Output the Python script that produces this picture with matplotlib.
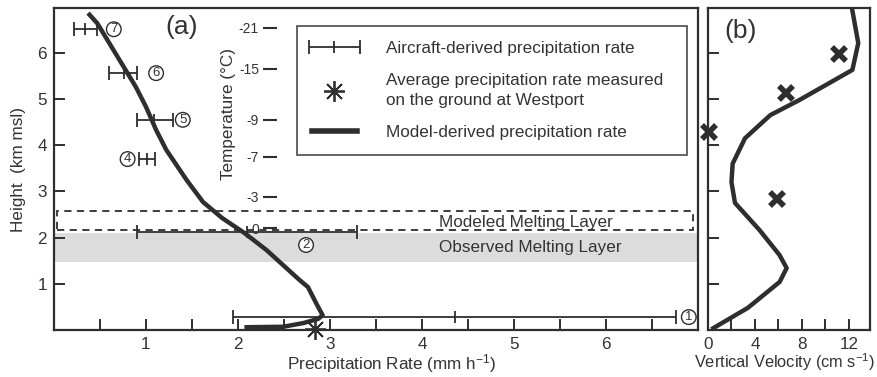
import matplotlib
matplotlib.use("Agg")
import matplotlib.pyplot as plt
from matplotlib.lines import Line2D
from matplotlib.patches import Rectangle
from matplotlib.legend_handler import HandlerErrorbar

plt.rcParams['font.family'] = ['Liberation Sans', 'DejaVu Sans']
plt.rcParams['mathtext.fontset'] = 'custom'
plt.rcParams['mathtext.rm'] = 'Liberation Sans'
plt.rcParams['mathtext.it'] = 'Liberation Sans'

# ---------------- data ----------------
# model-derived precipitation profile (panel a)
model_rate = [0.37, 0.47, 0.89, 1.0, 1.11, 1.22, 1.44, 1.62, 1.83, 2.07, 2.31, 2.67,
              2.76, 2.86, 2.92, 2.87, 2.71, 2.49, 2.07]
model_height = [6.86, 6.64, 5.26, 4.83, 4.33, 3.9, 3.25, 2.77, 2.42, 2.1, 1.73, 1.08,
                0.93, 0.54, 0.32, 0.24, 0.15, 0.07, 0.06]

# aircraft-derived precipitation (horizontal ranges)
air_labels = ["1", "2", "4", "5", "6", "7"]
air_height = [0.28, 2.12, 3.70, 4.55, 5.56, 6.51]
air_mid = [4.36, 2.10, 1.01, 1.09, 0.76, 0.34]
air_low = [1.95, 0.90, 0.92, 0.90, 0.60, 0.22]
air_high = [6.76, 3.29, 1.10, 1.29, 0.90, 0.47]
air_label_x = [6.90, 2.74, 0.80, 1.40, 1.11, 0.65]
air_label_y = [0.28, 1.84, 3.70, 4.55, 5.56, 6.51]

# ground measurement
ground_rate = [2.84]
ground_height = [0.03]

# melting layers (km)
observed_ml = [1.47, 2.10]
modeled_ml = [2.16, 2.58]

# temperature scale
temp_labels = ["-21", "-15", "-9", "-7", "-3", "0"]
temp_heights = [6.54, 5.65, 4.55, 3.75, 2.88, 2.20]

# panel b: vertical velocity
vv_model = [12.26, 12.8, 12.3, 7.8, 5.3, 3.15, 2.1, 2.0, 2.3, 4.4, 6.1, 6.7, 6.1, 3.4, 0.45]
vv_height = [6.97, 6.21, 5.63, 4.98, 4.65, 4.15, 3.6, 3.2, 2.75, 2.16, 1.62, 1.34, 1.04, 0.48, 0.04]
vv_obs = [11.2, 6.65, 0.1, 5.9]
vv_obs_height = [5.97, 5.13, 4.28, 2.84]

# ticks
a_xticks = [0.5, 1, 1.5, 2, 2.5, 3, 3.5, 4, 4.5, 5, 5.5, 6, 6.5]
a_xlabels = ["", "1", "", "2", "", "3", "", "4", "", "5", "", "6", ""]
yticks = [1, 2, 3, 4, 5, 6]
b_xticks = [0, 2, 4, 6, 8, 10, 12]
b_xlabels = ["0", "", "4", "", "8", "", "12"]

# ---------------- style ----------------
DARK = "#2e2e2e"
TXT = "#333333"
FS = 12.3

fig = plt.figure(figsize=(8.77, 3.77), dpi=100)
W, H = 877, 377
ax = fig.add_axes([54 / W, (H - 330) / H, 644 / W, 322 / H])
bx = fig.add_axes([708 / W, (H - 330) / H, 162 / W, 322 / H])

for a in (ax, bx):
    for s in a.spines.values():
        s.set_color(DARK)
        s.set_linewidth(1.6)
    a.tick_params(direction='in', length=8, width=1.4, color=DARK,
                  labelcolor=TXT, labelsize=FS, pad=5)

# ---------------- panel a ----------------
ax.set_xlim(0, 7.0)
ax.set_ylim(0, 6.97)

ax.axhspan(observed_ml[0], observed_ml[1], color="#dcdcdc", lw=0, zorder=0)
ax.add_patch(Rectangle((0.03, modeled_ml[0]), 6.92, modeled_ml[1] - modeled_ml[0],
                       fill=False, ls=(0, (4, 3)), lw=1.3, ec=DARK, zorder=1))
ax.text(5.13, 2.33, "Modeled Melting Layer", ha='center', va='center',
        fontsize=FS, color=TXT)
ax.text(5.18, 1.79, "Observed Melting Layer", ha='center', va='center',
        fontsize=FS, color=TXT)

# aircraft error bars
xerr = [[m - lo for m, lo in zip(air_mid, air_low)],
        [hi - m for m, hi in zip(air_mid, air_high)]]
eb = ax.errorbar(air_mid, air_height, xerr=xerr, fmt='|', color=DARK, ms=8, mew=1.3,
                 elinewidth=1.3, capsize=5, capthick=1.3, zorder=3)
for lab, lx, ly in zip(air_labels, air_label_x, air_label_y):
    ax.text(lx, ly, lab, ha='center', va='center', fontsize=9.5, color=TXT,
            bbox=dict(boxstyle='circle,pad=0.1', fc='white', ec=DARK, lw=1.0), zorder=4)

# model line
mline, = ax.plot(model_rate, model_height, color=DARK, lw=3.2, solid_capstyle='butt',
                 zorder=5)
# ground asterisk
gstar, = ax.plot(ground_rate, ground_height, ls='none', marker=(8, 2, 0), ms=15,
                 mew=1.3, color=DARK, clip_on=False, zorder=6)

ax.set_xticks(a_xticks)
ax.set_xticklabels(a_xlabels)
ax.set_yticks(yticks)
ax.set_yticklabels([str(v) for v in yticks])

ax.text(0.525, -0.103, "Precipitation Rate (mm h$^{-1}$)", transform=ax.transAxes,
        ha='center', va='center', fontsize=FS, color=TXT)
ax.set_ylabel("Height  (km msl)", fontsize=FS, color=TXT, labelpad=8)

ax.text(0.198, 0.94, "(a)", transform=ax.transAxes, ha='center', va='center',
        fontsize=19, color=TXT)

# temperature scale (inner axis)
tx = ax.inset_axes([(277 - 54) / 644, 0, 0.0001, 1])
tx.set_ylim(ax.get_ylim())
tx.set_xticks([])
tx.patch.set_visible(False)
for s in tx.spines.values():
    s.set_visible(False)
tx.set_yticks(temp_heights)
tx.set_yticklabels(temp_labels)
tx.tick_params(axis='y', direction='out', length=10, width=1.5, color=DARK,
               labelcolor=TXT, labelsize=10, pad=3)
ax.text((229 - 54) / 644, 0.67, "Temperature (°C)", transform=ax.transAxes,
        rotation=90, ha='center', va='center', fontsize=FS, color=TXT)

# legend
h_star = Line2D([], [], ls='none', marker=(8, 2, 0), ms=15, mew=1.3, color=DARK)
h_line = Line2D([], [], color=DARK, lw=4)
leg = ax.legend([eb, h_star, h_line],
                ["Aircraft-derived precipitation rate",
                 "Average precipitation rate measured\non the ground at Westport",
                 "Model-derived precipitation rate"],
                loc='upper left', bbox_to_anchor=(0.377, 0.944, 0.606, 0.0),
                mode='expand', fontsize=FS, frameon=True, fancybox=False,
                handlelength=2.6, handletextpad=1.7, labelspacing=1.0,
                borderpad=0.9, borderaxespad=0,
                handler_map={type(eb): HandlerErrorbar(xerr_size=1.5)})
leg.get_frame().set_edgecolor(DARK)
leg.get_frame().set_linewidth(1.3)
for t in leg.get_texts():
    t.set_color(TXT)
    t.set_linespacing(1.35)

# ---------------- panel b ----------------
bx.set_xlim(0, 13.8)
bx.set_ylim(0, 6.97)
bx.plot(vv_model, vv_height, color=DARK, lw=3.2, zorder=3)
bx.plot(vv_obs, vv_obs_height, ls='none', marker='x', ms=10, mew=4, color=DARK,
        clip_on=False, zorder=4)
bx.set_xticks(b_xticks)
bx.set_xticklabels(b_xlabels)
bx.set_yticks(yticks)
bx.set_yticklabels([])
bx.text(0.47, -0.10, "Vertical Velocity (cm s$^{-1}$)", transform=bx.transAxes,
        ha='center', va='center', fontsize=11.8, color=TXT)
bx.text(0.2, 0.93, "(b)", transform=bx.transAxes, ha='center', va='center',
        fontsize=19, color=TXT)

fig.savefig("out.png", dpi=100)
